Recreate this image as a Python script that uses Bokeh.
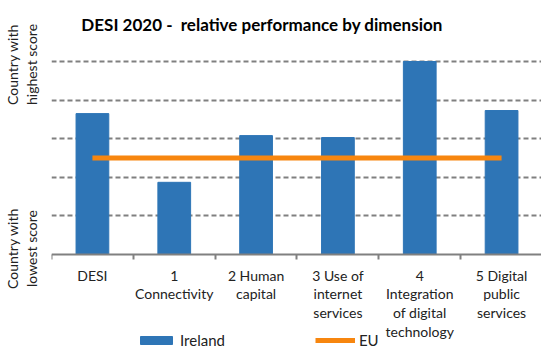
from bokeh.plotting import figure
from bokeh.models import Range1d, FixedTicker, LinearAxis, Legend, LegendItem
from bokeh.embed import file_html
from bokeh.resources import INLINE

categories = ["DESI", "1\nConnectivity", "2 Human\ncapital", "3 Use of\ninternet\nservices",
              "4\nIntegration\nof digital\ntechnology", "5 Digital\npublic\nservices"]
ireland = [3.65, 1.87, 3.08, 3.03, 5.0, 3.73]
eu = [2.5, 2.5, 2.5, 2.5, 2.5, 2.5]
grid_ticks = [1, 2, 3, 4, 5]
side_labels = ["Country with\nhighest score", "Country with\nlowest score"]
title_text = "DESI 2020 -\u00a0 relative performance by dimension"

FONT = "Lato"
BLUE = "#2E75B6"
ORANGE = "#F7860F"
GREY = "#808080"
TXT = "#222222"

PX = 38.6  # pixels per unit on the y scale
xs = [i + 0.5 for i in range(len(categories))]

p = figure(width=541, height=360, x_range=Range1d(0, 491 / 82),
           y_range=Range1d(-106 / PX, 5 + 2 / PX),
           output_backend="svg", toolbar_location=None,
           min_border_left=50, min_border_right=0, min_border_top=59, min_border_bottom=0)
p.outline_line_color = None
p.xgrid.visible = False
p.ygrid.ticker = FixedTicker(ticks=grid_ticks)
p.ygrid.grid_line_color = GREY
p.ygrid.grid_line_dash = "5 3"
p.ygrid.grid_line_width = 2

bars = p.vbar(x=xs, top=ireland, width=0.4, color=BLUE)
line = p.line(x=xs, y=eu, line_color=ORANGE, line_width=5)

# category axis, drawn at y = 0
ax = p.xaxis[0]
ax.fixed_location = 0
ax.ticker = FixedTicker(ticks=xs, minor_ticks=list(range(len(categories) + 1)))
ax.major_label_overrides = {x: c for x, c in zip(xs, categories)}
ax.major_tick_line_color = None
ax.major_tick_out = 0
ax.major_tick_in = 0
ax.minor_tick_out = 5
ax.minor_tick_in = 0
ax.minor_tick_line_color = GREY
ax.minor_tick_line_width = 2
ax.axis_line_color = GREY
ax.axis_line_width = 2
ax.major_label_standoff = 7
ax.major_label_text_font = FONT
ax.major_label_text_font_size = "14px"
ax.major_label_text_color = TXT
ax.major_label_text_line_height = 1.1

# side texts: highest / lowest score, as rotated labels of the left axis
side_pos = [5 - 3 / PX, 6 / PX]
ya = p.yaxis[0]
ya.ticker = FixedTicker(ticks=side_pos)
ya.major_label_overrides = {y: t for y, t in zip(side_pos, side_labels)}
ya.axis_line_color = None
ya.major_tick_line_color = None
ya.minor_tick_line_color = None
ya.major_tick_out = 0
ya.major_tick_in = 0
ya.major_label_orientation = "parallel"
ya.major_label_standoff = 12
ya.major_label_text_font = FONT
ya.major_label_text_font_size = "14px"
ya.major_label_text_color = TXT
ya.major_label_text_line_height = 1.1

# title as label of an axis above the plot
title_pos = (261 - 50) / 82
top = LinearAxis(ticker=FixedTicker(ticks=[title_pos]),
                 major_label_overrides={title_pos: title_text},
                 axis_line_color=None, major_tick_line_color=None, minor_tick_line_color=None,
                 major_tick_out=0, major_tick_in=0, major_label_standoff=25,
                 major_label_text_font=FONT, major_label_text_font_style="bold",
                 major_label_text_font_size="17px", major_label_text_color="#000000")
p.add_layout(top, "above")

legend = Legend(items=[LegendItem(label="Ireland", renderers=[bars]),
                       LegendItem(label="EU", renderers=[line])],
                orientation="horizontal", location=(85, 11),
                glyph_width=40, glyph_height=10, label_standoff=4, spacing=90,
                padding=0, margin=0, border_line_color=None, background_fill_alpha=0,
                label_text_font=FONT, label_text_font_size="15px", label_height=18,
                label_text_color=TXT)
p.add_layout(legend)

open("out.html", "w").write(file_html(p, INLINE))
